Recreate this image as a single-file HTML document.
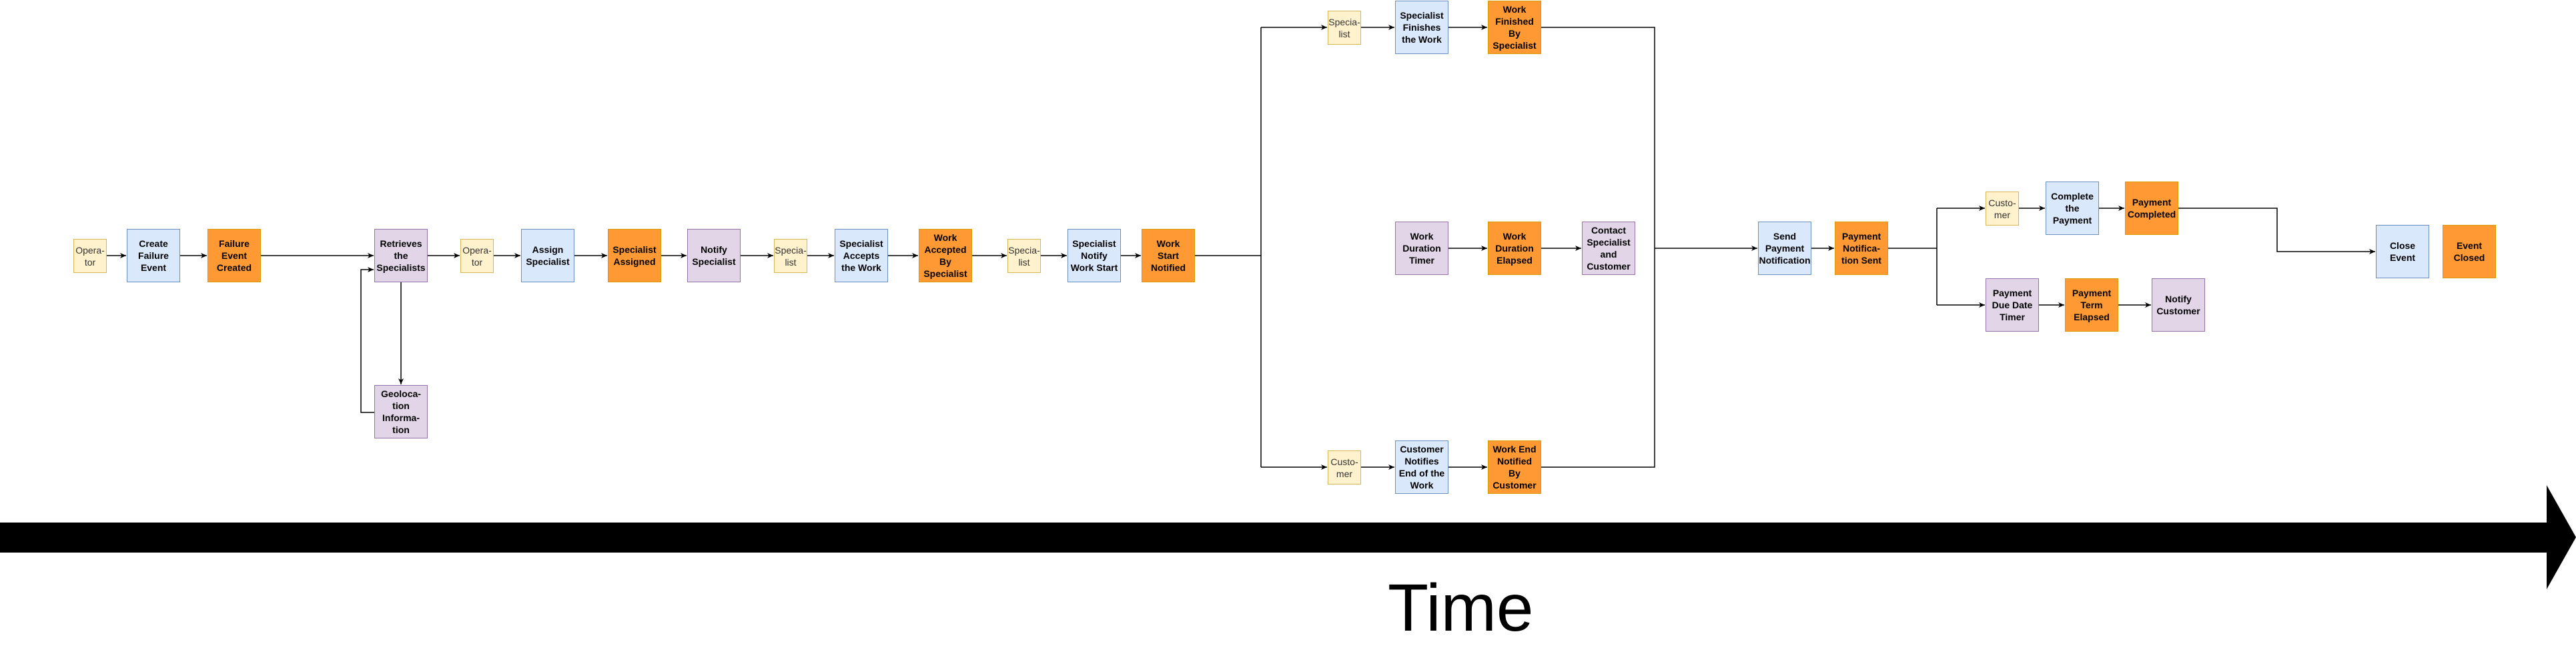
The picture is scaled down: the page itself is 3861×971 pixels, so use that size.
<!DOCTYPE html>
<html><head><meta charset="utf-8"><style>
html,body{margin:0;padding:0;background:#fff;}
body{width:3861px;height:971px;position:relative;overflow:hidden;font-family:"Liberation Sans",Arial,sans-serif;}
.b{position:absolute;width:78px;height:78px;display:flex;align-items:center;justify-content:center;text-align:center;font-weight:bold;font-size:14px;line-height:18px;color:#000;white-space:nowrap;}
.s{position:absolute;width:48px;height:49px;display:flex;align-items:center;justify-content:center;text-align:center;font-size:14px;line-height:18px;color:#333;background:#fff2cc;border:1px solid #d6b656;white-space:nowrap;}
.bl{background:#dae8fc;border:1px solid #6c8ebf;}
.or{background:#ff9933;border:1px solid #d79b00;}
.pu{background:#e1d5e7;border:1px solid #9673a6;}
svg{position:absolute;left:0;top:0;}
.t{position:absolute;left:2080px;top:854px;font-size:100px;line-height:115px;color:#000;}
</style></head><body>
<svg width="3861" height="971" viewBox="0 0 3861 971">
<defs><marker id="a" markerWidth="10" markerHeight="10" refX="9" refY="5" orient="auto" markerUnits="userSpaceOnUse"><path d="M0,1 L9,5 L0,9 L2.5,5 Z" fill="#000"/></marker></defs>
<g stroke="#000" stroke-width="1.5" fill="none">
<path d="M160,383H189" marker-end="url(#a)"/>
<path d="M270,383H310" marker-end="url(#a)"/>
<path d="M391,383H560" marker-end="url(#a)"/>
<path d="M641,383H689" marker-end="url(#a)"/>
<path d="M740,383H780" marker-end="url(#a)"/>
<path d="M861,383H910" marker-end="url(#a)"/>
<path d="M991,383H1029" marker-end="url(#a)"/>
<path d="M1110,383H1159" marker-end="url(#a)"/>
<path d="M1210,383H1250" marker-end="url(#a)"/>
<path d="M1331,383H1376" marker-end="url(#a)"/>
<path d="M1457,383H1509" marker-end="url(#a)"/>
<path d="M1560,383H1599" marker-end="url(#a)"/>
<path d="M1680,383H1710" marker-end="url(#a)"/>
<path d="M1791,383H1890"/>
<path d="M601,423V576" marker-end="url(#a)"/>
<path d="M561,618H541V404H560" marker-end="url(#a)"/>
<path d="M1890,41V700"/>
<path d="M1890,41H1989" marker-end="url(#a)"/>
<path d="M2040,41H2090" marker-end="url(#a)"/>
<path d="M2171,41H2229" marker-end="url(#a)"/>
<path d="M2310,41H2480V700H2310"/>
<path d="M1890,700H1989" marker-end="url(#a)"/>
<path d="M2040,700H2090" marker-end="url(#a)"/>
<path d="M2171,700H2229" marker-end="url(#a)"/>
<path d="M2171,372H2229" marker-end="url(#a)"/>
<path d="M2310,372H2370" marker-end="url(#a)"/>
<path d="M2480,372H2634" marker-end="url(#a)"/>
<path d="M2715,372H2749" marker-end="url(#a)"/>
<path d="M2830,372H2903"/>
<path d="M2903,312V457"/>
<path d="M2903,312H2975" marker-end="url(#a)"/>
<path d="M3026,312H3065" marker-end="url(#a)"/>
<path d="M3146,312H3184" marker-end="url(#a)"/>
<path d="M3265,312H3413V377H3560" marker-end="url(#a)"/>
<path d="M2903,457H2975" marker-end="url(#a)"/>
<path d="M3056,457H3094" marker-end="url(#a)"/>
<path d="M3175,457H3224" marker-end="url(#a)"/>
</g>
<path d="M0,783H3817V727L3861,805L3817,883V828H0Z" fill="#000"/>
</svg>

<div class="s" style="left:110px;top:358px">Opera-<br>tor</div>
<div class="b bl" style="left:190px;top:343px">Create<br>Failure<br>Event</div>
<div class="b or" style="left:311px;top:343px">Failure<br>Event<br>Created</div>
<div class="b pu" style="left:561px;top:343px">Retrieves<br>the<br>Specialists</div>
<div class="b pu" style="left:561px;top:577px">Geoloca-<br>tion<br>Informa-<br>tion</div>
<div class="s" style="left:690px;top:358px">Opera-<br>tor</div>
<div class="b bl" style="left:781px;top:343px">Assign<br>Specialist</div>
<div class="b or" style="left:911px;top:343px">Specialist<br>Assigned</div>
<div class="b pu" style="left:1030px;top:343px">Notify<br>Specialist</div>
<div class="s" style="left:1160px;top:358px">Specia-<br>list</div>
<div class="b bl" style="left:1251px;top:343px">Specialist<br>Accepts<br>the Work</div>
<div class="b or" style="left:1377px;top:343px">Work<br>Accepted<br>By<br>Specialist</div>
<div class="s" style="left:1510px;top:358px">Specia-<br>list</div>
<div class="b bl" style="left:1600px;top:343px">Specialist<br>Notify<br>Work Start</div>
<div class="b or" style="left:1711px;top:343px">Work<br>Start<br>Notified</div>

<div class="s" style="left:1990px;top:16px">Specia-<br>list</div>
<div class="b bl" style="left:2091px;top:1px">Specialist<br>Finishes<br>the Work</div>
<div class="b or" style="left:2230px;top:1px">Work<br>Finished<br>By<br>Specialist</div>
<div class="b pu" style="left:2091px;top:332px">Work<br>Duration<br>Timer</div>
<div class="b or" style="left:2230px;top:332px">Work<br>Duration<br>Elapsed</div>
<div class="b pu" style="left:2371px;top:332px">Contact<br>Specialist<br>and<br>Customer</div>
<div class="s" style="left:1990px;top:675px">Custo-<br>mer</div>
<div class="b bl" style="left:2091px;top:660px">Customer<br>Notifies<br>End of the<br>Work</div>
<div class="b or" style="left:2230px;top:660px">Work End<br>Notified<br>By<br>Customer</div>

<div class="b bl" style="left:2635px;top:332px">Send<br>Payment<br>Notification</div>
<div class="b or" style="left:2750px;top:332px">Payment<br>Notifica-<br>tion Sent</div>
<div class="s" style="left:2976px;top:287px">Custo-<br>mer</div>
<div class="b bl" style="left:3066px;top:272px">Complete<br>the<br>Payment</div>
<div class="b or" style="left:3185px;top:272px">Payment<br>Completed</div>
<div class="b bl" style="left:3561px;top:337px">Close<br>Event</div>
<div class="b or" style="left:3661px;top:337px">Event<br>Closed</div>
<div class="b pu" style="left:2976px;top:417px">Payment<br>Due Date<br>Timer</div>
<div class="b or" style="left:3095px;top:417px">Payment<br>Term<br>Elapsed</div>
<div class="b pu" style="left:3225px;top:417px">Notify<br>Customer</div>

<div class="t">Time</div>
</body></html>
